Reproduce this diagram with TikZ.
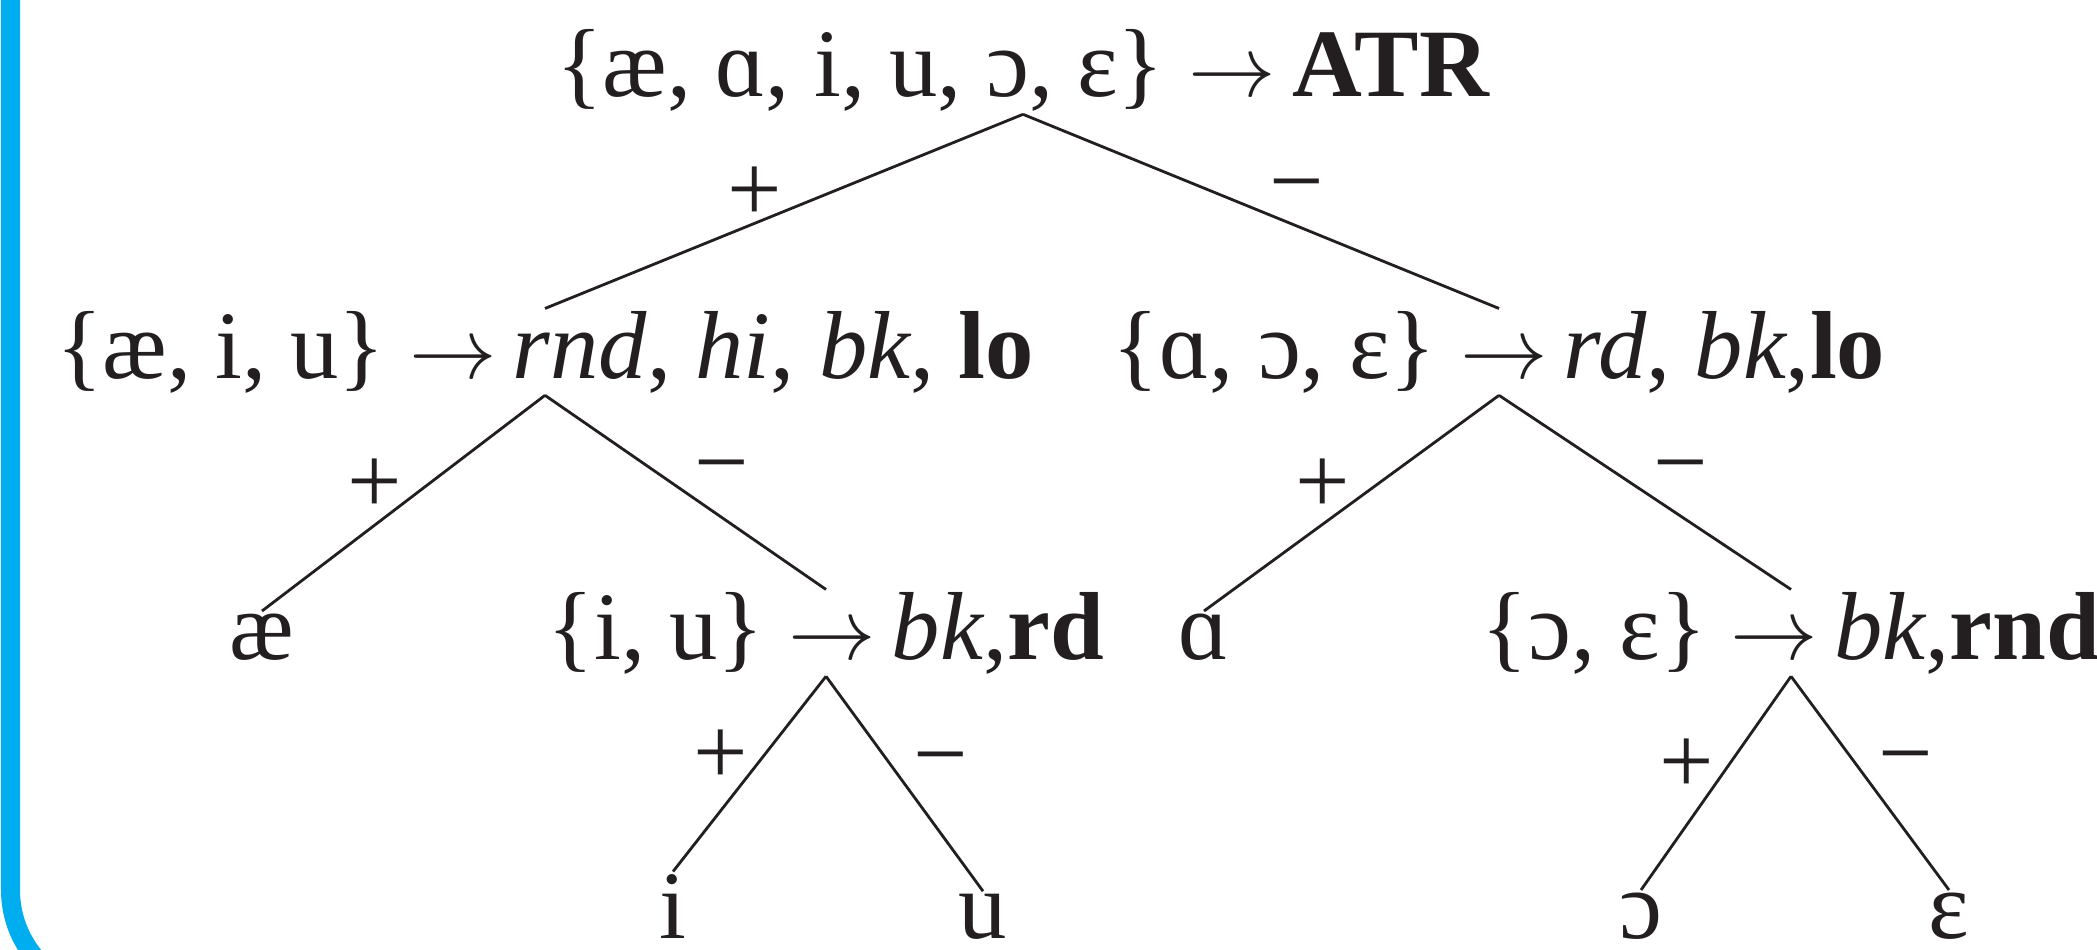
\documentclass[tikz,border=0pt]{standalone}
\usepackage{fontspec}
\setmainfont{Liberation Serif}
\usetikzlibrary{positioning}
\definecolor{bkCyan}{HTML}{00AEEF}
\definecolor{bkInk}{HTML}{231F20}
\tikzset{
  frameline/.style = {bkCyan, line width=0.19cm, rounded corners=1.05cm},
  feat/.style      = {anchor=base, inner sep=0.5pt, text=bkInk,
                      font=\fontsize{27.5}{33}\selectfont},
  branch/.style    = {bkInk, line width=0.8pt},
  pluslbl/.style   = {midway, xshift=-0.29cm, yshift=0.17cm, inner sep=0pt,
                      text=bkInk, font=\fontsize{27.5}{33}\selectfont},
  minuslbl/.style  = {midway, xshift=0.36cm, yshift=0.15cm, inner sep=0pt,
                      text=bkInk, font=\fontsize{27.5}{33}\selectfont},
}

\begin{document}
\begin{tikzpicture}
\useasboundingbox (0,0) rectangle (20.97,9.49);
\clip (0,0) rectangle (20.97,9.49);
% cyan rule down the left side of the box
\draw[frameline] (0.105,10) -- (0.105,-0.46) -- (4,-0.46);

% split on ATR
\node[feat] (atr) at (10.23,8.52) {\{æ, ɑ, i, u, ɔ, ɛ\} $\rightarrow$\,\textbf{ATR}};
% second row
\node[feat] (hiset) at (5.45,5.71) {\{æ, i, u\} $\rightarrow$\,\textit{rnd}, \textit{hi}, \textit{bk}, \textbf{lo}};
\node[feat] (loset) at (14.99,5.71) {\{ɑ, ɔ, ɛ\} $\rightarrow$\,\textit{rd}, \textit{bk},\textbf{lo}};
% third row
\node[feat] (ae)    at (2.62,2.90)  {æ};
\node[feat] (iuset) at (8.26,2.90)  {\{i, u\} $\rightarrow$\,\textit{bk},\textbf{rd}};
\node[feat] (aa)    at (12.04,2.90) {ɑ};
\node[feat] (oeset) at (17.91,2.90) {\{ɔ, ɛ\} $\rightarrow$\,\textit{bk},\textbf{rnd}};
% leaves
\node[feat] (ii) at (6.73,0.11)  {i};
\node[feat] (uu) at (9.83,0.11)  {u};
\node[feat] (oo) at (16.41,0.11) {ɔ};
\node[feat] (ee) at (19.49,0.11) {ɛ};

\draw[branch] (atr.south) -- (hiset.north) node[pluslbl] {+};
\draw[branch] (atr.south) -- (loset.north) node[minuslbl] {−};
\draw[branch] (hiset.south) -- (ae.north) node[pluslbl] {+};
\draw[branch] (hiset.south) -- (iuset.north) node[minuslbl] {−};
\draw[branch] (loset.south) -- (aa.north) node[pluslbl] {+};
\draw[branch] (loset.south) -- (oeset.north) node[minuslbl] {−};
\draw[branch] (iuset.south) -- (ii.north) node[pluslbl] {+};
\draw[branch] (iuset.south) -- (uu.north) node[minuslbl] {−};
\draw[branch] (oeset.south) -- (oo.north) node[pluslbl] {+};
\draw[branch] (oeset.south) -- (ee.north) node[minuslbl] {−};
\end{tikzpicture}
\end{document}
